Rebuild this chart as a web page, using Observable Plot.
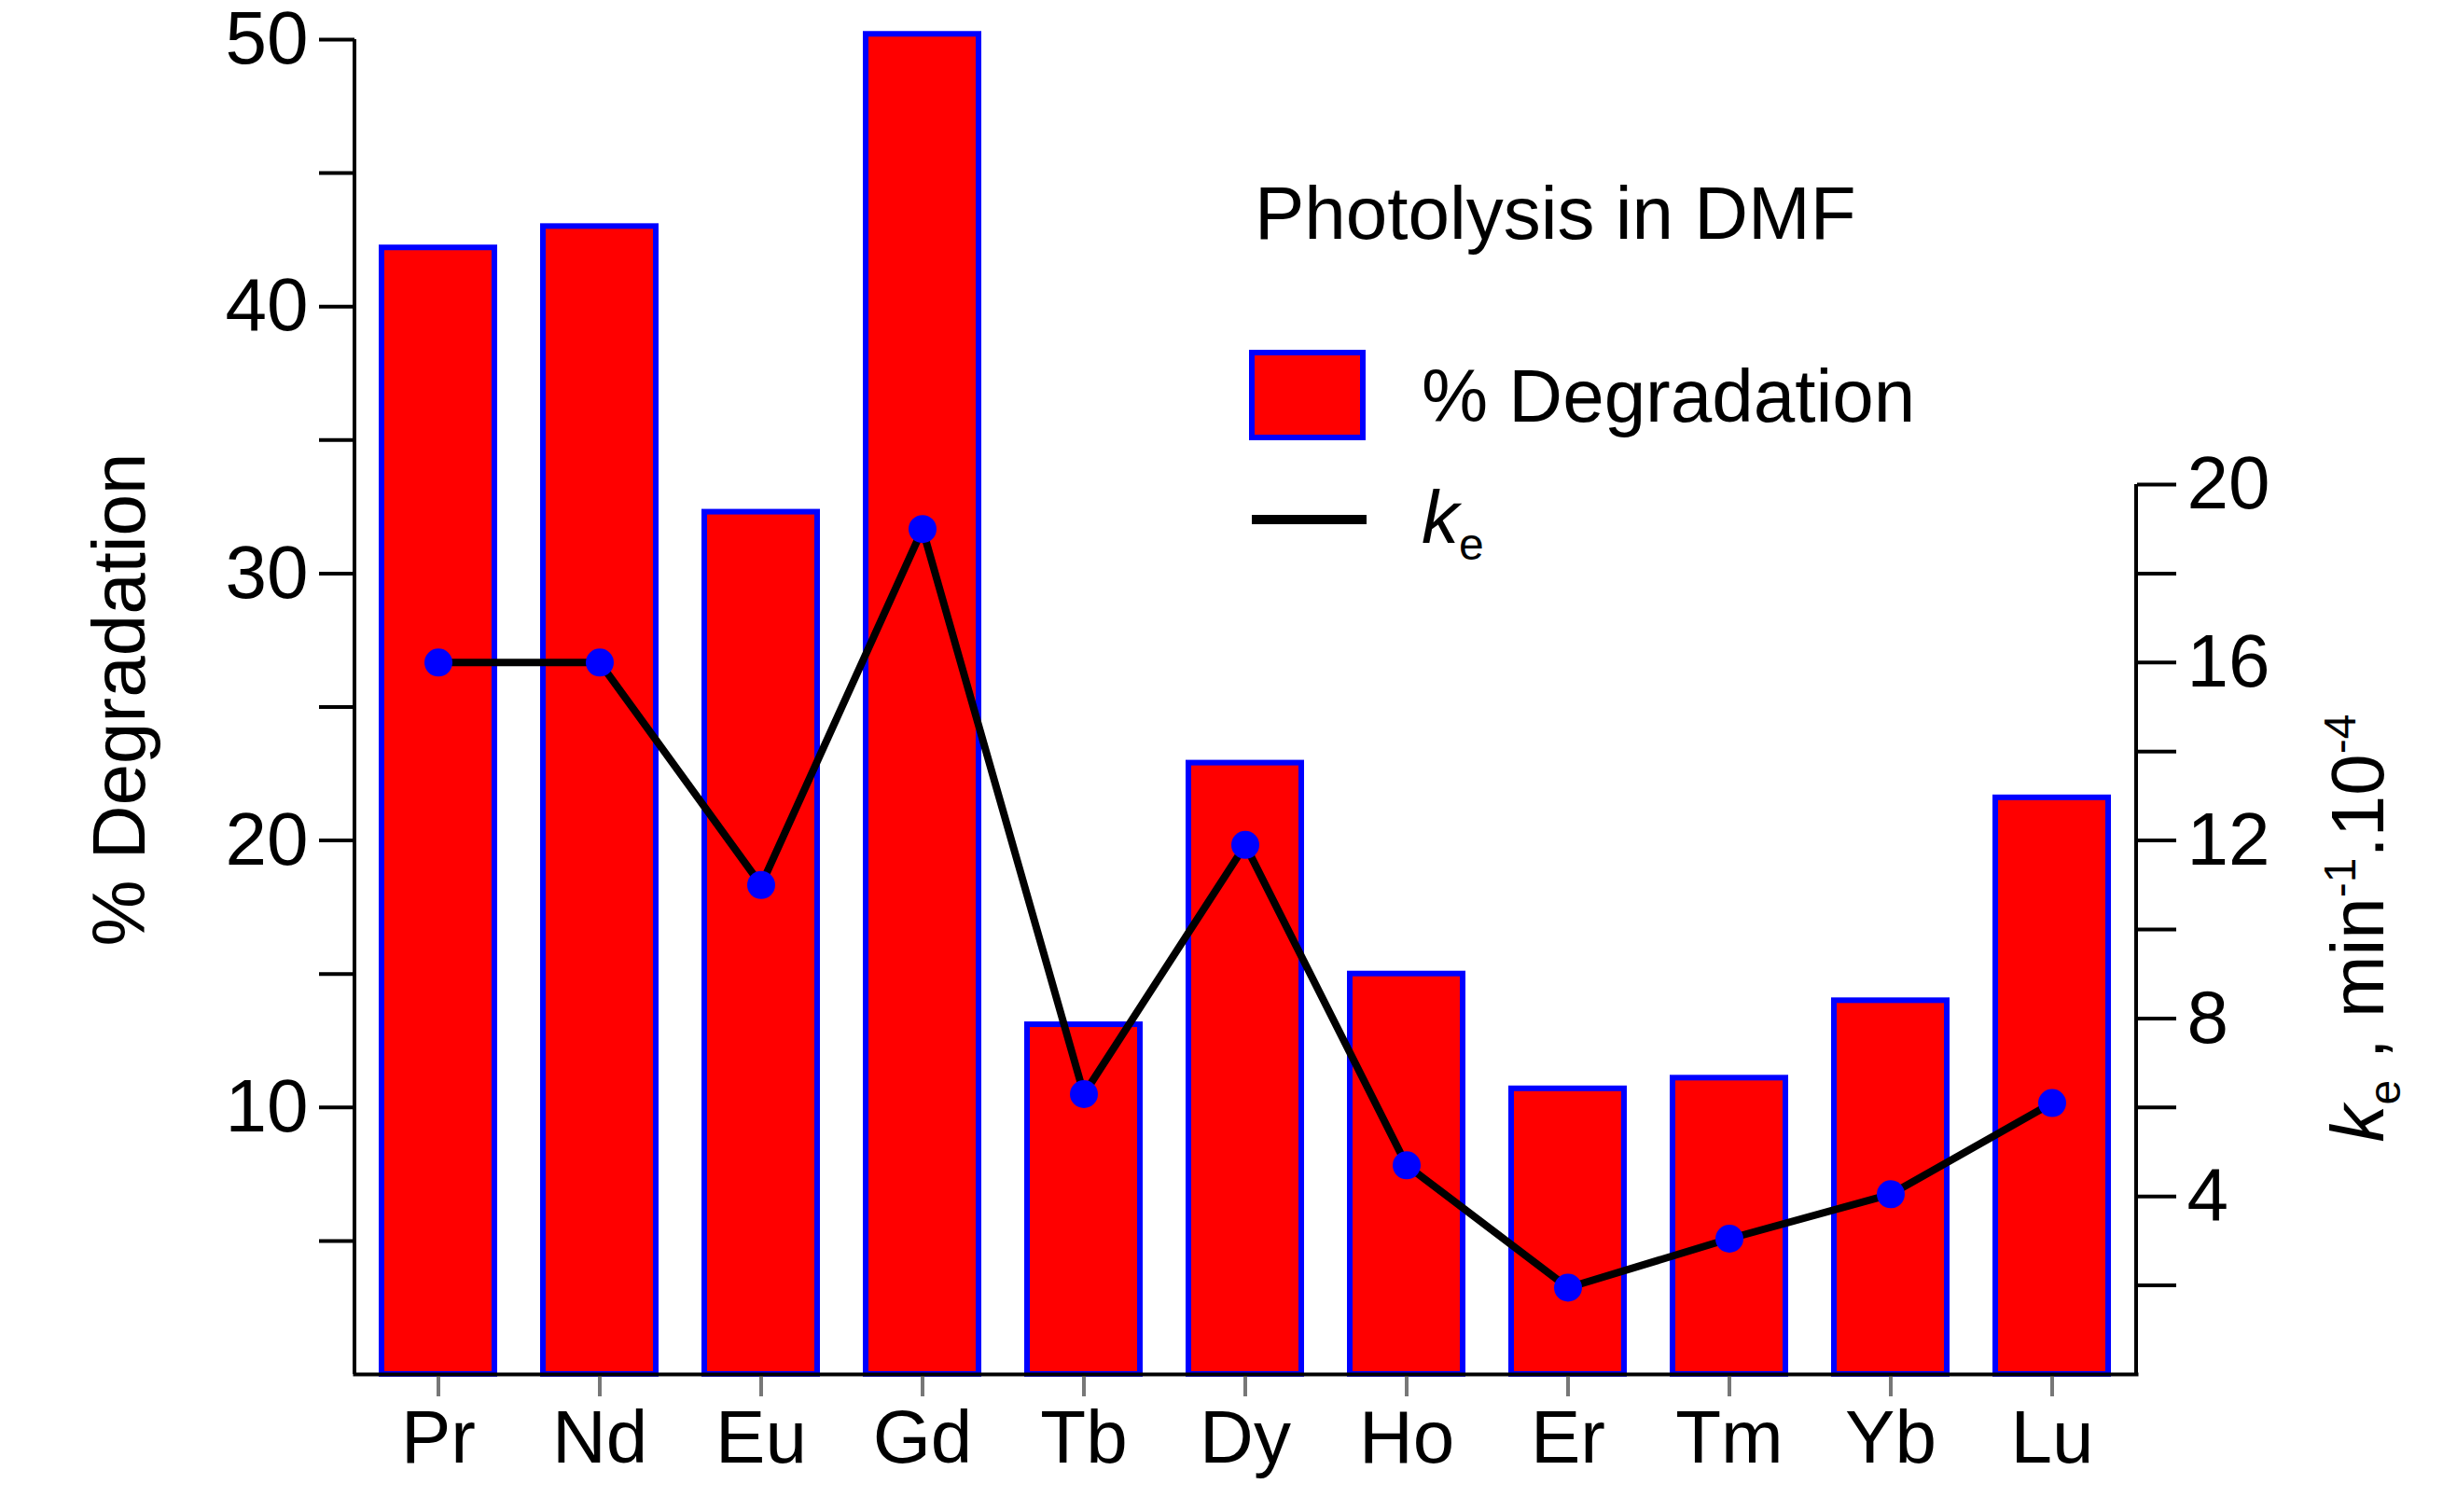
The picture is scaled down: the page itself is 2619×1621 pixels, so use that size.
<!DOCTYPE html>
<html><head><meta charset="utf-8">
<script src="https://cdn.jsdelivr.net/npm/d3@7"></script>
<script src="https://cdn.jsdelivr.net/npm/@observablehq/plot@0.6"></script>
<style>body{margin:0;background:#fff}svg{font-family:"Liberation Sans",Arial,sans-serif;overflow:visible}</style>
</head><body><div id="c"></div>
<script>
const elements = ["Pr","Nd","Eu","Gd","Tb","Dy","Ho","Er","Tm","Yb","Lu"];
const degradation = [42.2,43.0,32.3,50.2,13.1,22.9,15.0,10.7,11.1,14.0,21.6];
const ke = [16.0,16.0,11.0,19.0,6.3,11.9,4.7,1.95,3.05,4.05,6.1];
const leftTicks = [10,20,30,40,50];
const leftMinor = [5,15,25,35,45];
const rightTicks = [4,8,12,16,20];
const rightMinor = [2,6,10,14,18];
const k2y = v => v*50/30;
const data = elements.map((e,i)=>({e, d:degradation[i], k:k2y(ke[i])}));
const W=2619,H=1621, fs=80;
const plot = Plot.plot({
  width:W, height:H, marginLeft:380, marginRight:329, marginTop:42, marginBottom:148,
  style:{fontSize:fs+"px", fontFamily:"Liberation Sans, Arial, sans-serif", color:"#000", overflow:"visible"},
  x:{domain:elements, paddingInner:0.3, paddingOuter:0.15, label:null},
  y:{domain:[0,50], label:null},
  marks:[
    Plot.barY(data,{x:"e",y:"d",fill:"#ff0000",stroke:"#0000ff",strokeWidth:6,clip:false}),
    Plot.line(data,{x:"e",y:"k",stroke:"#000",strokeWidth:8}),
    Plot.dot(data,{x:"e",y:"k",r:15,fill:"#0000ff"}),
    Plot.axisY({ticks:leftMinor,tickSize:38,tickFormat:()=>"",strokeWidth:4}),
    Plot.axisY({ticks:leftTicks,tickSize:38,tickPadding:12,strokeWidth:4,fontSize:fs,label:null}),
    Plot.axisY({anchor:"right",ticks:rightMinor.map(k2y),tickSize:42,tickFormat:()=>"",strokeWidth:4}),
    Plot.axisY({anchor:"right",ticks:rightTicks.map(k2y),tickSize:42,tickPadding:12,strokeWidth:4,fontSize:fs,tickFormat:v=>String(Math.round(v*30/50)),label:null}),
    Plot.axisX({tickSize:24,tickPadding:14,stroke:"#777",strokeWidth:4,fontSize:fs,label:null}),
    Plot.frame({anchor:"bottom",stroke:"#000",strokeWidth:4})
  ]
});
document.getElementById("c").appendChild(plot);
const svg = d3.select(plot);
const y = plot.scale("y");
const xl = 380, xr = W-329;
const g = svg.append("g").attr("font-size",fs).attr("fill","#000").attr("text-anchor","start");
g.append("line").attr("x1",xl).attr("x2",xl).attr("y1",y.apply(0)).attr("y2",y.apply(50)).attr("stroke","#000").attr("stroke-width",4);
g.append("line").attr("x1",xr).attr("x2",xr).attr("y1",y.apply(0)).attr("y2",y.apply(k2y(20))).attr("stroke","#000").attr("stroke-width",4);
g.append("text").attr("x",1345).attr("y",256).text("Photolysis in DMF");
g.append("rect").attr("x",1342).attr("y",378).attr("width",119).attr("height",91).attr("fill","#ff0000").attr("stroke","#0000ff").attr("stroke-width",6);
g.append("text").attr("x",1524).attr("y",452).text("% Degradation");
g.append("line").attr("x1",1342).attr("x2",1465).attr("y1",557).attr("y2",557).attr("stroke","#000").attr("stroke-width",10);
const kt = g.append("text").attr("x",1524).attr("y",582);
kt.append("tspan").attr("font-style","italic").text("k");
kt.append("tspan").attr("font-size",48).attr("dy",18).text("e");
g.append("text").attr("transform","translate(155,750) rotate(-90)").attr("text-anchor","middle").text("% Degradation");
const rt = g.append("text").attr("transform","translate(2555,995) rotate(-90)").attr("text-anchor","middle");
rt.append("tspan").attr("font-style","italic").text("k");
rt.append("tspan").attr("font-size",48).attr("dy",18).text("e");
rt.append("tspan").attr("dy",-18).text(" , min");
rt.append("tspan").attr("font-size",48).attr("dy",-30).text("-1");
rt.append("tspan").attr("dy",30).text(".10");
rt.append("tspan").attr("font-size",48).attr("dy",-30).text("-4");
</script></body></html>
